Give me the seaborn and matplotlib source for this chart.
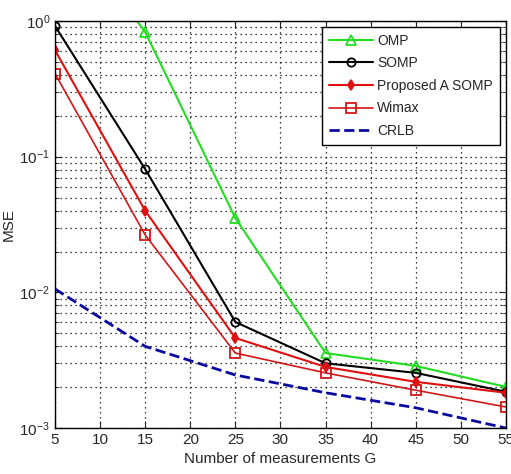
import matplotlib
matplotlib.use("Agg")
import matplotlib.pyplot as plt
import seaborn as sns
import pandas as pd
import numpy as np
from matplotlib.ticker import LogLocator, FixedLocator

G = [5, 15, 25, 35, 45, 55]
omp = [6.5, 0.83, 0.0353, 0.00357, 0.00287, 0.00201]
somp = [0.92, 0.081, 0.00605, 0.0030, 0.00255, 0.00185]
asomp = [0.61, 0.040, 0.00461, 0.00282, 0.00219, 0.00182]
wimax = [0.41, 0.0265, 0.00357, 0.00255, 0.0019, 0.00143]
crlb = [0.0106, 0.0040, 0.00246, 0.00182, 0.00141, 0.0010]

names = ["OMP", "SOMP", "Proposed A SOMP", "Wimax", "CRLB"]
series = [omp, somp, asomp, wimax, crlb]
rows = []
for n, s in zip(names, series):
    for g, v in zip(G, s):
        rows.append({"G": g, "MSE": v, "Method": n})
df = pd.DataFrame(rows)

sns.set_style("white")
plt.rcParams['font.family'] = ['Liberation Sans', 'DejaVu Sans']
plt.rcParams['mathtext.fontset'] = 'custom'
plt.rcParams['mathtext.rm'] = 'Liberation Sans'

fig = plt.figure(figsize=(5.11, 4.74), dpi=100)
ax = fig.add_axes([0.1076, 0.097, 0.8824, 0.8587])

styles = {
    "OMP": dict(color="#22dd22", marker="^", mfc="none", ms=7, ls="-", lw=1.5),
    "SOMP": dict(color="black", marker="o", mfc="none", ms=6, ls="-", lw=1.5),
    "Proposed A SOMP": dict(color="#e01010", marker="d", mfc="#e01010", ms=5, ls="-", lw=1.5),
    "Wimax": dict(color="#d01818", marker="s", mfc="none", ms=7, ls="-", lw=1.2),
    "CRLB": dict(color="#0a0aa0", marker=None, ls="--", lw=2.0),
}
for n in names:
    st = styles[n]
    sub = df[df["Method"] == n]
    sns.lineplot(data=sub, x="G", y="MSE", ax=ax, label=n, color=st["color"],
                 marker=st["marker"], markerfacecolor=st.get("mfc"),
                 markeredgecolor=st["color"], markersize=st.get("ms", 6),
                 linestyle=st["ls"], linewidth=st["lw"], markeredgewidth=1.3)

ax.set_yscale("log")
ax.set_ylim(1e-3, 1)
ax.set_xlim(5, 55)
ax.xaxis.set_major_locator(FixedLocator(list(range(5, 56, 5))))
ax.yaxis.set_major_locator(LogLocator(base=10, numticks=10))
ax.yaxis.set_minor_locator(LogLocator(base=10, subs=np.arange(2, 10), numticks=20))
ax.grid(True, which="major", color="black", linestyle=(0, (1, 3)), linewidth=0.9)
ax.grid(True, which="minor", axis="y", color="black", linestyle=(0, (1, 3)), linewidth=0.9)
ax.set_axisbelow(True)
ax.tick_params(axis="both", which="major", direction="in", length=5, labelsize=11,
               top=True, right=True, bottom=True, left=True)
ax.tick_params(axis="y", which="minor", direction="in", length=3, left=True, right=True)
for sp in ax.spines.values():
    sp.set_color("black")
    sp.set_linewidth(1.0)

ax.set_xlabel("Number of measurements G", fontsize=11)
ax.set_ylabel("MSE", fontsize=11)
ax.yaxis.set_label_coords(-0.088, 0.5)

leg = ax.legend(loc="upper right", fontsize=10, frameon=True, fancybox=False,
                edgecolor="black", framealpha=1, handlelength=3.2, borderpad=0.5,
                labelspacing=0.62, handletextpad=0.3, borderaxespad=0,
                bbox_to_anchor=(0.987, 0.986))
leg.get_frame().set_linewidth(1.0)

fig.savefig("out.png", dpi=100)
